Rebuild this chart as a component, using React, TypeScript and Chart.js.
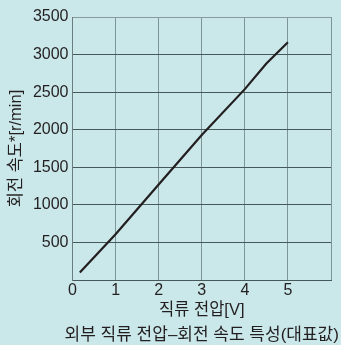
import React, { useEffect, useRef } from "react";
import { Chart, registerables } from "chart.js";

Chart.register(...registerables);

const voltage = [0.17, 1, 2, 3, 4, 4.5, 5];
const speed = [100, 610, 1270, 1930, 2540, 2880, 3165];
const xMax = 6;
const yMax = 3500;
const yStep = 500;
const xTitle = "직류 전압[V]";
const yTitle = "회전 속도*[r/min]";
const chartTitle = "외부 직류 전압–회전 속도 특성(대표값)";

const BG = "#cae7e9";
const TEXT = "#231f20";
const FONT = "'Liberation Sans', 'Noto Sans CJK KR', sans-serif";

export default function App() {
  const ref = useRef<HTMLCanvasElement | null>(null);

  useEffect(() => {
    if (!ref.current) return;
    const bottomTitle = {
      id: "bottomTitle",
      afterDraw(chart: any) {
        const { ctx, chartArea } = chart;
        ctx.save();
        ctx.fillStyle = TEXT;
        ctx.font = `17px ${FONT}`;
        ctx.textAlign = "center";
        ctx.textBaseline = "middle";
        ctx.fillText(chartTitle, (chartArea.left + chartArea.right) / 2, 335);
        ctx.restore();
      },
    };
    const chart = new Chart(ref.current, {
      type: "line",
      data: {
        datasets: [
          {
            data: voltage.map((v, i) => ({ x: v, y: speed[i] })),
            borderColor: TEXT,
            borderWidth: 2.2,
            pointRadius: 0,
            fill: false,
            tension: 0,
          },
        ],
      },
      options: {
        responsive: false,
        animation: false,
        layout: { padding: { left: 0, top: 17, right: 10, bottom: 25 } },
        plugins: {
          legend: { display: false },
          tooltip: { enabled: false },
          title: { display: false },
        },
        scales: {
          x: {
            type: "linear",
            min: 0,
            max: xMax,
            afterFit: (s: any) => {
              s.height = 40;
            },
            ticks: {
              stepSize: 1,
              color: TEXT,
              padding: 1,
              font: { family: FONT, size: 16 },
              callback: (v: any) => (v === xMax ? "" : String(v)),
              maxRotation: 0,
            },
            grid: { color: "#7d9597", lineWidth: 1, drawTicks: false },
            border: { color: "#46585a" },
            title: {
              display: true,
              text: xTitle,
              color: TEXT,
              font: { family: FONT, size: 16.5 },
              padding: { top: 0, bottom: 0 },
            },
          },
          y: {
            type: "linear",
            min: 0,
            max: yMax,
            afterFit: (s: any) => {
              s.width = 72.5;
            },
            ticks: {
              stepSize: yStep,
              color: TEXT,
              padding: 4,
              font: { family: FONT, size: 16 },
              callback: (v: any) => (v === 0 ? "" : String(v)),
            },
            grid: {
              color: (c: any) => (c.tick && c.tick.value === yMax ? "#8a9a9c" : "#46585a"),
              lineWidth: 1,
              drawTicks: false,
            },
            border: { color: "#6a7c7e" },
            title: {
              display: true,
              text: yTitle,
              color: TEXT,
              font: { family: FONT, size: 16.5 },
              padding: { top: 7, bottom: 0 },
            },
          },
        },
      },
      plugins: [bottomTitle],
    });
    return () => chart.destroy();
  }, []);

  return (
    <div style={{ position: "absolute", left: 0, top: 0, width: 341, height: 345, background: BG }}>
      <canvas ref={ref} width={341} height={345} style={{ display: "block" }} />
    </div>
  );
}
